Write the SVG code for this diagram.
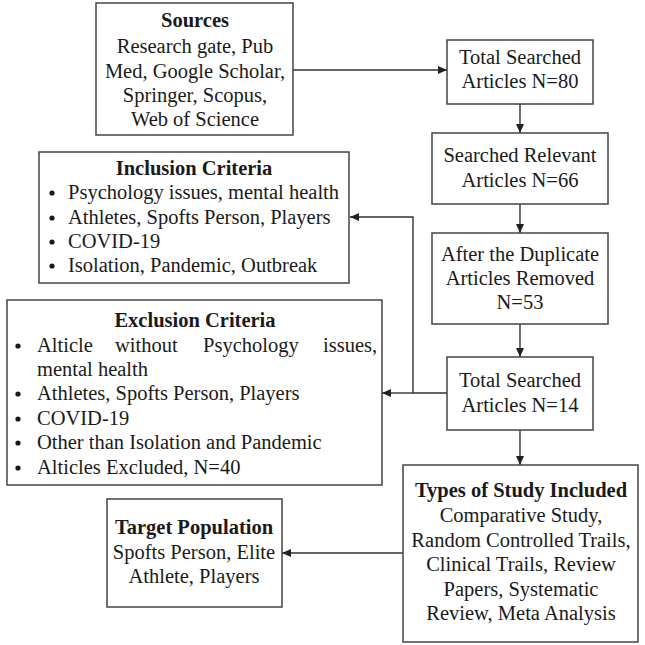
<svg xmlns="http://www.w3.org/2000/svg" width="645" height="645" viewBox="0 0 645 645">
<defs>
<marker id="arr" markerWidth="9" markerHeight="8" refX="9" refY="4" orient="auto" markerUnits="userSpaceOnUse">
<path d="M0,0 L9,4 L0,8 Z" fill="#222"/>
</marker>
<style>
.box{fill:#fff;stroke:#444;stroke-width:1.5}
text{font-family:"Liberation Serif","Times New Roman",serif;font-size:20.5px;fill:#1a1a1a}
.c{text-anchor:middle}
.b{font-weight:bold}
.ln{fill:none;stroke:#333;stroke-width:1.4}
.dot{fill:#1a1a1a}
</style>
</defs>
<rect width="645" height="645" fill="#fff"/>
<g id="connectors">
<line class="ln" x1="293" y1="70" x2="447" y2="70" marker-end="url(#arr)"/>
<line class="ln" x1="520" y1="104" x2="520" y2="133" marker-end="url(#arr)"/>
<line class="ln" x1="520" y1="204" x2="520" y2="233" marker-end="url(#arr)"/>
<line class="ln" x1="520" y1="324" x2="520" y2="357" marker-end="url(#arr)"/>
<line class="ln" x1="520" y1="430" x2="520" y2="465" marker-end="url(#arr)"/>
<path class="ln" d="M447,393 H413 V217 H350" marker-end="url(#arr)"/>
<line class="ln" x1="413" y1="393" x2="382" y2="393" marker-end="url(#arr)"/>
<line class="ln" x1="403" y1="553" x2="282" y2="553" marker-end="url(#arr)"/>
</g>
<g id="sources">
<rect class="box" x="96" y="3" width="197" height="132"/>
<text class="c b" x="195" y="27">Sources</text>
<text class="c" x="195" y="53">Research gate, Pub</text>
<text class="c" x="195" y="77.5">Med, Google Scholar,</text>
<text class="c" x="195" y="102">Springer, Scopus,</text>
<text class="c" x="195" y="126">Web of Science</text>
</g>
<g id="total80">
<rect class="box" x="447" y="40" width="146" height="64"/>
<text class="c" x="520" y="64">Total Searched</text>
<text class="c" x="520" y="88">Articles N=80</text>
</g>
<g id="relevant66">
<rect class="box" x="432" y="133" width="176" height="71"/>
<text class="c" x="520" y="162">Searched Relevant</text>
<text class="c" x="520" y="186.5">Articles N=66</text>
</g>
<g id="duplicates53">
<rect class="box" x="432" y="233" width="176" height="91"/>
<text class="c" x="520" y="261">After the Duplicate</text>
<text class="c" x="520" y="285">Articles Removed</text>
<text class="c" x="520" y="309">N=53</text>
</g>
<g id="total14">
<rect class="box" x="447" y="357" width="146" height="73"/>
<text class="c" x="520" y="387">Total Searched</text>
<text class="c" x="520" y="411.5">Articles N=14</text>
</g>
<g id="inclusion">
<rect class="box" x="39" y="152" width="310" height="131"/>
<text class="c b" x="194" y="175">Inclusion Criteria</text>
<circle class="dot" cx="52" cy="193" r="2.6"/>
<circle class="dot" cx="52" cy="218" r="2.6"/>
<circle class="dot" cx="52" cy="242" r="2.6"/>
<circle class="dot" cx="52" cy="266" r="2.6"/>
<text x="68" y="199">Psychology issues, mental health</text>
<text x="68" y="224">Athletes, Spofts Person, Players</text>
<text x="68" y="248">COVID-19</text>
<text x="68" y="272">Isolation, Pandemic, Outbreak</text>
</g>
<g id="exclusion">
<rect class="box" x="7" y="300" width="375" height="185"/>
<text class="c b" x="195" y="327">Exclusion Criteria</text>
<circle class="dot" cx="18" cy="346" r="2.6"/>
<circle class="dot" cx="18" cy="394" r="2.6"/>
<circle class="dot" cx="18" cy="419" r="2.6"/>
<circle class="dot" cx="18" cy="443" r="2.6"/>
<circle class="dot" cx="18" cy="468" r="2.6"/>
<text y="352"><tspan x="37">Alticle</tspan><tspan x="115">without</tspan><tspan x="203">Psychology</tspan><tspan x="323">issues,</tspan></text>
<text x="37" y="376">mental health</text>
<text x="37" y="400">Athletes, Spofts Person, Players</text>
<text x="37" y="425">COVID-19</text>
<text x="37" y="449">Other than Isolation and Pandemic</text>
<text x="37" y="474">Alticles Excluded, N=40</text>
</g>
<g id="types">
<rect class="box" x="403" y="465" width="235" height="177"/>
<text class="c b" x="521" y="497">Types of Study Included</text>
<text class="c" x="521" y="522">Comparative Study,</text>
<text class="c" x="521" y="546.5">Random Controlled Trails,</text>
<text class="c" x="521" y="571">Clinical Trails, Review</text>
<text class="c" x="521" y="595.5">Papers, Systematic</text>
<text class="c" x="521" y="620">Review, Meta Analysis</text>
</g>
<g id="target">
<rect class="box" x="107" y="499" width="175" height="108"/>
<text class="c b" x="194" y="534">Target Population</text>
<text class="c" x="194" y="559">Spofts Person, Elite</text>
<text class="c" x="194" y="583">Athlete, Players</text>
</g>
</svg>
